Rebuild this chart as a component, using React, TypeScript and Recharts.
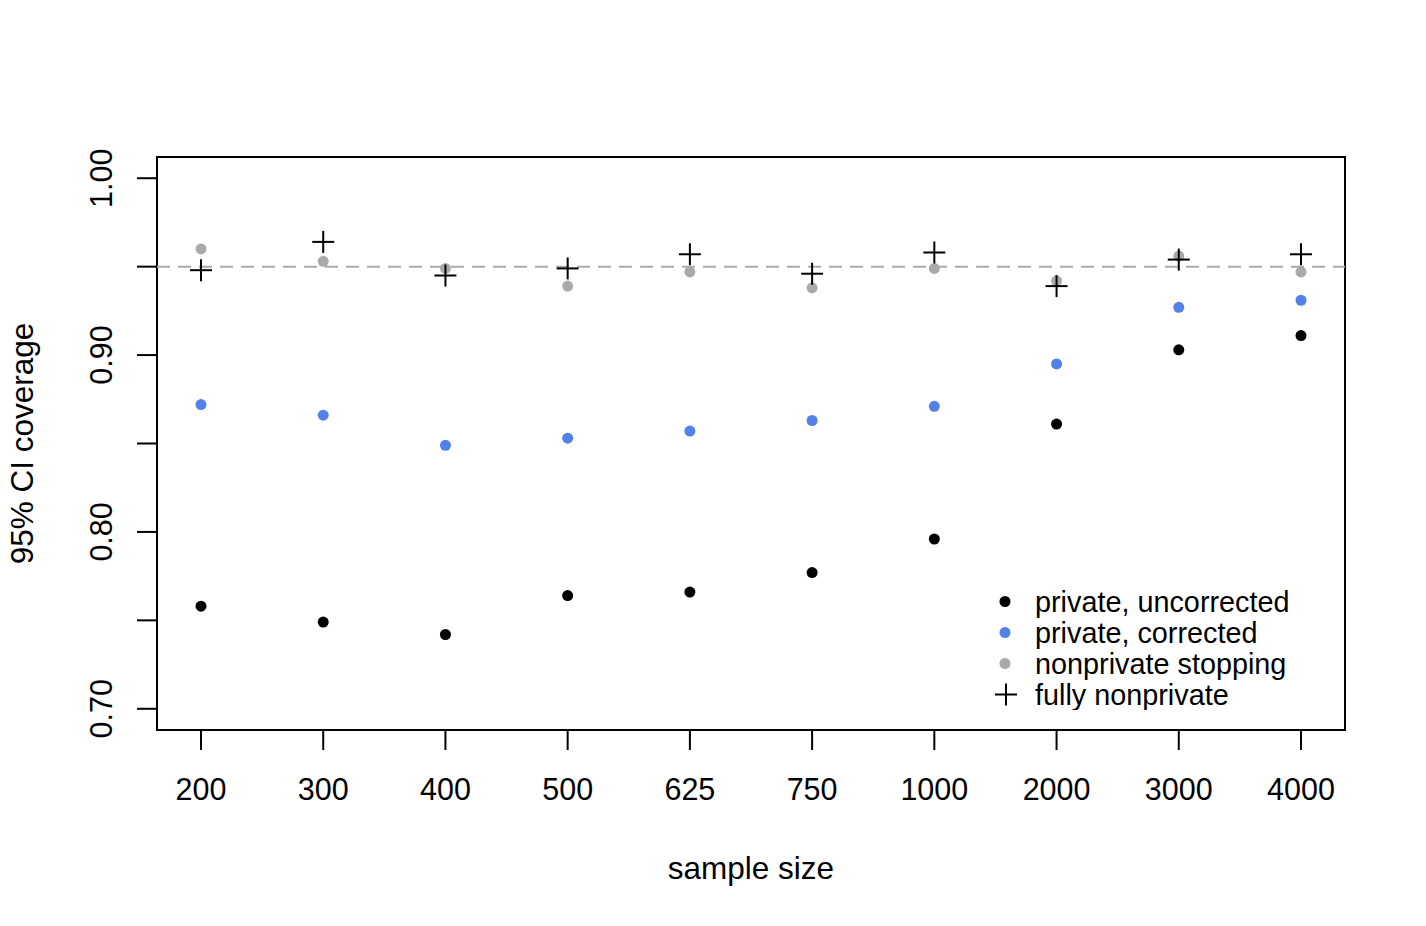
import React from 'react';
import {
  ScatterChart,
  Scatter,
  XAxis,
  YAxis,
  ReferenceLine,
  ReferenceArea,
  Legend,
} from 'recharts';

const sampleSizes = ['200', '300', '400', '500', '625', '750', '1000', '2000', '3000', '4000'];
const privateUncorrected = [0.758, 0.749, 0.742, 0.764, 0.766, 0.777, 0.796, 0.861, 0.903, 0.911];
const privateCorrected = [0.872, 0.866, 0.849, 0.853, 0.857, 0.863, 0.871, 0.895, 0.927, 0.931];
const nonprivateStopping = [0.96, 0.953, 0.949, 0.939, 0.947, 0.938, 0.949, 0.942, 0.956, 0.947];
const fullyNonprivate = [0.948, 0.964, 0.945, 0.949, 0.957, 0.946, 0.958, 0.939, 0.954, 0.957];
const yTicks = [0.7, 0.75, 0.8, 0.85, 0.9, 0.95, 1.0];
const yLabelled = [0.7, 0.8, 0.9, 1.0];
const nominalLevel = 0.95;

const xPositions = sampleSizes.map((_, i) => i + 1);
const toPoints = (vals: number[]) => vals.map((v, i) => ({ x: i + 1, y: v }));

const FONT = '"Liberation Sans", Arial, Helvetica, sans-serif';
const BLUE = '#5281E9';
const GRAY = '#AAAAAA';

const dotShape = (color: string) => (props: any) => (
  <circle cx={props.cx} cy={props.cy} r={5.5} fill={color} />
);

const plusShape = (props: any) => {
  const { cx, cy } = props;
  return (
    <g stroke="#000" strokeWidth={2}>
      <line x1={cx - 11} y1={cy} x2={cx + 11} y2={cy} />
      <line x1={cx} y1={cy - 11} x2={cx} y2={cy + 11} />
    </g>
  );
};

const XTick = (props: any) => {
  const { x, y, payload } = props;
  const label = sampleSizes[Math.round(payload.value) - 1] ?? '';
  return (
    <text x={x} y={y + 48} textAnchor="middle" fontFamily={FONT} fontSize={30.5} fill="#000">
      {label}
    </text>
  );
};

const YTick = (props: any) => {
  const { x, y, payload } = props;
  const show = yLabelled.some((v) => Math.abs(v - payload.value) < 1e-9);
  if (!show) return null;
  const bx = x - 23;
  return (
    <text
      x={bx}
      y={y}
      transform={`rotate(-90, ${bx}, ${y})`}
      textAnchor="middle"
      fontFamily={FONT}
      fontSize={30.5}
      fill="#000"
    >
      {payload.value.toFixed(2)}
    </text>
  );
};

const legendItems = [
  { label: 'private, uncorrected', kind: 'dot', color: '#000' },
  { label: 'private, corrected', kind: 'dot', color: BLUE },
  { label: 'nonprivate stopping', kind: 'dot', color: GRAY },
  { label: 'fully nonprivate', kind: 'plus', color: '#000' },
];

const LegendContent = () => (
  <svg width={330} height={130} style={{ display: 'block' }}>
    {legendItems.map((it, i) => {
      const cy = 21.5 + i * 31;
      return (
        <g key={it.label}>
          {it.kind === 'dot' ? (
            <circle cx={15} cy={cy} r={5.5} fill={it.color} />
          ) : (
            <g stroke="#000" strokeWidth={2}>
              <line x1={5} y1={cy} x2={27} y2={cy} />
              <line x1={16} y1={cy - 11} x2={16} y2={cy + 11} />
            </g>
          )}
          <text x={45} y={cy + 10} fontFamily={FONT} fontSize={28.8} fill="#000">
            {it.label}
          </text>
        </g>
      );
    })}
  </svg>
);

export default function App() {
  return (
    <div style={{ position: 'absolute', left: 0, top: 0, width: 1426, height: 926, background: '#fff' }}>
      <ScatterChart
        width={1426}
        height={926}
        margin={{ top: 157, right: 81, bottom: 136, left: 97 }}
      >
        <XAxis
          type="number"
          dataKey="x"
          domain={[0.64, 10.36]}
          ticks={xPositions}
          allowDataOverflow
          axisLine={false}
          tickSize={20}
          tickLine={{ stroke: '#000', strokeWidth: 2 }}
          tick={<XTick />}
          height={60}
          interval={0}
          label={{
            content: (p: any) => {
              const vb = p.viewBox || {};
              return (
                <text
                  x={vb.x + vb.width / 2}
                  y={vb.y + 149}
                  textAnchor="middle"
                  fontFamily={FONT}
                  fontSize={31.5}
                  fill="#000"
                >
                  sample size
                </text>
              );
            },
          }}
        />
        <YAxis
          type="number"
          dataKey="y"
          domain={[0.688, 1.012]}
          ticks={yTicks}
          allowDataOverflow
          axisLine={false}
          tickSize={20}
          tickLine={{ stroke: '#000', strokeWidth: 2 }}
          tick={<YTick />}
          width={60}
          interval={0}
          label={{
            content: (p: any) => {
              const vb = p.viewBox || {};
              const lx = vb.x - 64;
              const ly = vb.y + vb.height / 2;
              return (
                <text
                  x={lx}
                  y={ly}
                  transform={`rotate(-90, ${lx}, ${ly})`}
                  textAnchor="middle"
                  fontFamily={FONT}
                  fontSize={31.5}
                  fill="#000"
                >
                  95% CI coverage
                </text>
              );
            },
          }}
        />
        <ReferenceLine
          y={nominalLevel}
          stroke={GRAY}
          strokeWidth={2}
          strokeDasharray="13 8"
        />
        <Scatter
          name="private, uncorrected"
          data={toPoints(privateUncorrected)}
          shape={dotShape('#000')}
          isAnimationActive={false}
        />
        <Scatter
          name="private, corrected"
          data={toPoints(privateCorrected)}
          shape={dotShape(BLUE)}
          isAnimationActive={false}
        />
        <Scatter
          name="nonprivate stopping"
          data={toPoints(nonprivateStopping)}
          shape={dotShape(GRAY)}
          isAnimationActive={false}
        />
        <Scatter
          name="fully nonprivate"
          data={toPoints(fullyNonprivate)}
          shape={plusShape}
          isAnimationActive={false}
        />
        <ReferenceArea
          x1={0.64}
          x2={10.36}
          y1={0.688}
          y2={1.012}
          fill="none"
          fillOpacity={0}
          stroke="#000"
          strokeWidth={2}
          ifOverflow="visible"
        />
        <Legend
          layout="horizontal"
          verticalAlign="middle"
          align="center"
          content={<LegendContent />}
          wrapperStyle={{ position: 'absolute', left: 990, top: 580, width: 330, height: 130 }}
        />
      </ScatterChart>
    </div>
  );
}
